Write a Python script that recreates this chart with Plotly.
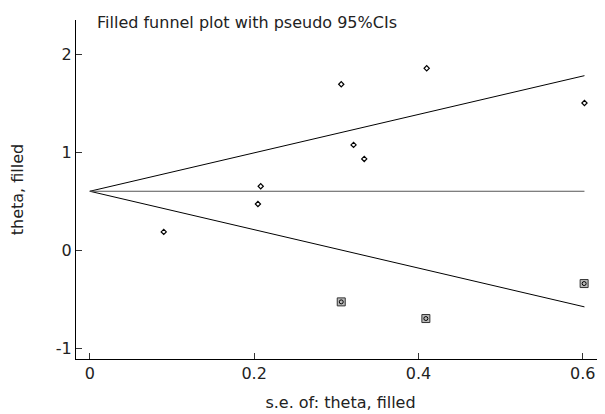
import plotly.graph_objects as go

# Observed studies
se_obs = [0.090, 0.2046, 0.208, 0.306, 0.321, 0.334, 0.410, 0.602]
theta_obs = [0.187, 0.472, 0.653, 1.694, 1.075, 0.932, 1.857, 1.503]

# Filled (imputed) studies
se_fill = [0.306, 0.409, 0.6016]
theta_fill = [-0.527, -0.697, -0.340]

# Pooled estimate and funnel limits
pooled = 0.602
se_max = 0.602
funnel_se = [0, se_max]
upper = [pooled, pooled + 1.96 * se_max]
lower = [pooled, pooled - 1.96 * se_max]

x_ticks = [0, 0.2, 0.4, 0.6]
x_tick_text = ["0", "0.2", "0.4", "0.6"]
y_ticks = [-1, 0, 1, 2]
y_tick_text = ["-1", "0", "1", "2"]

FONT = "DejaVu Sans"

fig = go.Figure()
fig.add_trace(go.Scatter(x=funnel_se, y=upper, mode="lines",
                         line=dict(color="black", width=1), hoverinfo="skip"))
fig.add_trace(go.Scatter(x=funnel_se, y=lower, mode="lines",
                         line=dict(color="black", width=1), hoverinfo="skip"))
fig.add_trace(go.Scatter(x=funnel_se, y=[pooled, pooled], mode="lines",
                         line=dict(color="#555555", width=1), hoverinfo="skip"))
fig.add_trace(go.Scatter(x=se_obs, y=theta_obs, mode="markers",
                         marker=dict(symbol="diamond-open", size=4, color="black",
                                     line=dict(width=1.2, color="black"))))
fig.add_trace(go.Scatter(x=se_fill, y=theta_fill, mode="markers",
                         marker=dict(symbol="square", size=8, color="#bbbbbb",
                                     line=dict(width=1, color="#333333"))))
fig.add_trace(go.Scatter(x=se_fill, y=theta_fill, mode="markers",
                         marker=dict(symbol="circle-open", size=4, color="black",
                                     line=dict(width=1, color="black"))))

fig.update_layout(
    width=597, height=406,
    margin=dict(l=68, r=0, t=12, b=55, autoexpand=False),
    paper_bgcolor="white", plot_bgcolor="white",
    showlegend=False,
    font=dict(family=FONT, size=16, color="#222222"),
    xaxis=dict(range=[-0.0168, 0.627], tickvals=x_ticks, ticktext=x_tick_text,
               showgrid=False, zeroline=False, showline=True, linecolor="black",
               linewidth=1, ticks="inside", ticklen=6, tickcolor="#333333",
               automargin=False,
               title=dict(text="s.e. of: theta, filled", font=dict(size=16), standoff=14)),
    yaxis=dict(range=[-1.11, 2.35], tickvals=y_ticks, ticktext=y_tick_text,
               showgrid=False, zeroline=False, showline=True, linecolor="black",
               linewidth=1, ticks="inside", ticklen=6, tickcolor="#333333",
               automargin=False,
               title=dict(text="theta, filled", font=dict(size=16), standoff=30)),
    annotations=[dict(text="Filled funnel plot with pseudo 95%CIs", xref="paper", yref="paper",
                      x=0.0365, y=0.994, xanchor="left", yanchor="middle", showarrow=False,
                      font=dict(size=16, family=FONT, color="#222222"))],
)

fig.write_html("out.html")
